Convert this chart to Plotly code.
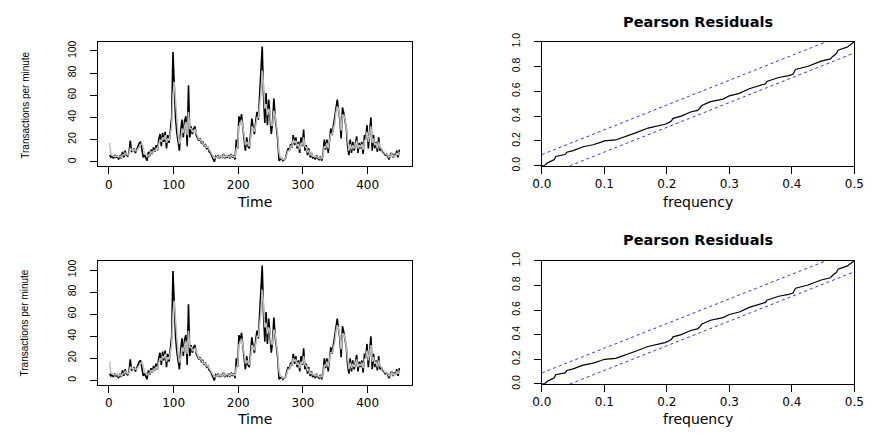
import plotly.graph_objects as go

# ---------------- data ----------------
time_idx = list(range(1, 451, 2))

observed = [
    6, 4, 5, 3, 6, 4, 5, 2, 6, 3,
    9, 4, 10, 6, 5, 8, 19, 9, 10, 12,
    8, 11, 14, 17, 18, 9, 4, 6, 3, 1,
    9, 5, 11, 7, 13, 9, 15, 10, 20, 25,
    14, 26, 18, 27, 12, 24, 17, 28, 40, 99,
    62, 40, 26, 15, 10, 28, 38, 22, 37, 41,
    14, 69, 22, 32, 25, 30, 32, 24, 22, 19,
    21, 17, 18, 14, 16, 12, 13, 9, 8, 5,
    3, 0, 5, 4, 6, 3, 5, 4, 7, 3,
    5, 4, 6, 3, 7, 4, 6, 2, 20, 12,
    41, 36, 43, 28, 20, 10, 22, 14, 12, 25,
    39, 30, 25, 37, 45, 38, 60, 70, 104, 60,
    35, 62, 33, 56, 40, 25, 35, 57, 40, 30,
    20, 1, 2, 3, 1, 2, 3, 8, 12, 10,
    16, 13, 24, 15, 22, 12, 18, 8, 22, 14,
    29, 10, 15, 6, 12, 4, 8, 3, 5, 2,
    6, 3, 2, 5, 1, 6, 20, 11, 20, 8,
    22, 30, 24, 32, 38, 50, 56, 46, 38, 21,
    49, 44, 38, 30, 14, 6, 20, 8, 18, 10,
    16, 23, 8, 17, 12, 18, 7, 24, 20, 33,
    12, 28, 40, 10, 24, 12, 18, 9, 22, 10,
    12, 9, 8, 6, 7, 5, 2, 6, 8, 4,
    7, 5, 10, 4, 11,
]

fitted = [
    17, 7, 6, 5, 5, 5, 5, 4, 5, 4,
    6, 6, 8, 7, 6, 7, 12, 11, 10, 11,
    10, 10, 12, 14, 16, 17, 13, 8, 7, 5,
    6, 6, 9, 8, 10, 10, 12, 11, 16, 20,
    18, 22, 20, 24, 17, 21, 19, 24, 32, 60,
    72, 55, 38, 24, 16, 20, 30, 26, 32, 36,
    24, 45, 30, 30, 27, 28, 29, 26, 23, 20,
    20, 18, 17, 15, 15, 13, 13, 11, 9, 7,
    5, 3, 4, 4, 5, 4, 5, 4, 6, 4,
    5, 5, 5, 4, 6, 5, 5, 4, 12, 14,
    32, 34, 38, 32, 24, 15, 18, 16, 14, 20,
    32, 30, 27, 33, 40, 40, 52, 62, 82, 70,
    48, 52, 42, 48, 43, 33, 33, 46, 42, 33,
    24, 8, 4, 3, 2, 2, 3, 6, 10, 10,
    14, 14, 20, 17, 19, 14, 16, 11, 17, 15,
    22, 14, 13, 9, 10, 6, 7, 5, 5, 4,
    5, 4, 3, 4, 3, 5, 14, 13, 17, 12,
    18, 25, 25, 29, 34, 44, 50, 47, 40, 28,
    42, 42, 38, 31, 18, 10, 16, 11, 15, 12,
    15, 19, 12, 15, 13, 16, 11, 19, 20, 27,
    18, 24, 32, 17, 21, 15, 17, 12, 18, 13,
    12, 10, 9, 7, 7, 6, 4, 5, 7, 5,
    6, 5, 8, 6, 9,
]

cp_freq = [0.0, 0.004, 0.009, 0.017, 0.020, 0.022, 0.035, 0.037, 0.040, 0.050,
           0.066, 0.082, 0.095, 0.100, 0.118, 0.129, 0.150, 0.170, 0.197, 0.204,
           0.207, 0.210, 0.223, 0.238, 0.249, 0.252, 0.256, 0.270, 0.290, 0.300,
           0.316, 0.332, 0.350, 0.358, 0.360, 0.379, 0.395, 0.402, 0.404, 0.406,
           0.426, 0.447, 0.462, 0.465, 0.470, 0.472, 0.474, 0.489, 0.500]
cp_val = [0.0, 0.0, 0.023, 0.044, 0.050, 0.075, 0.083, 0.090, 0.109, 0.122,
          0.153, 0.169, 0.190, 0.200, 0.208, 0.226, 0.265, 0.304, 0.335, 0.350,
          0.360, 0.382, 0.400, 0.434, 0.447, 0.460, 0.486, 0.517, 0.538, 0.564,
          0.584, 0.621, 0.652, 0.662, 0.680, 0.712, 0.727, 0.738, 0.760, 0.777,
          0.803, 0.844, 0.862, 0.880, 0.900, 0.910, 0.932, 0.958, 1.0]

ks_bound = 0.09
freq_ends = [0.0, 0.5]

time_ticks = [0, 100, 200, 300, 400]
count_ticks = [0, 20, 40, 60, 80, 100]
freq_ticks = [0.0, 0.1, 0.2, 0.3, 0.4, 0.5]
cum_ticks = [0.0, 0.2, 0.4, 0.6, 0.8, 1.0]

# ---------------- page geometry ----------------
W, H = 877, 436


def px_x(X):
    return X / W


def px_y(Y):
    return 1 - Y / H


# ---------------- figure ----------------
fig = go.Figure()

panels = [
    # (xaxis name, yaxis name, x pixel span, y pixel span (top, bottom))
    ("x", "y", (90, 411), (34, 163)),
    ("x2", "y2", (544.3, 864), (34, 162.3)),
    ("x3", "y3", (90, 411), (261, 389.3)),
    ("x4", "y4", (544.3, 864), (260.7, 388.3)),
]

for i, (xa, ya, _, _) in enumerate(panels):
    if i in (0, 2):
        fig.add_trace(go.Scatter(x=time_idx, y=observed, mode="lines",
                                 line=dict(color="#000000", width=1.6),
                                 xaxis=xa, yaxis=ya, showlegend=False))
        fig.add_trace(go.Scatter(x=time_idx, y=fitted, mode="lines",
                                 line=dict(color="#bdbdbd", width=1.5),
                                 xaxis=xa, yaxis=ya, showlegend=False))
    else:
        upper = [2 * f + ks_bound for f in freq_ends]
        lower = [2 * f - ks_bound for f in freq_ends]
        for b in (upper, lower):
            fig.add_trace(go.Scatter(x=freq_ends, y=b, mode="lines",
                                     line=dict(color="rgb(50,50,255)", width=1,
                                               dash="3px,3px"),
                                     xaxis=xa, yaxis=ya, showlegend=False))
        fig.add_trace(go.Scatter(x=cp_freq, y=cp_val, mode="lines",
                                 line=dict(color="#000000", width=1.2),
                                 xaxis=xa, yaxis=ya, showlegend=False))

tick_font = dict(family="DejaVu Sans", size=12, color="#000000")
ytick_font = dict(family="Liberation Sans", size=10.5, color="#000000")

common = dict(showline=True, mirror=True, linecolor="#000000", linewidth=1,
              ticks="outside", ticklen=7, tickcolor="#000000", tickwidth=1,
              showgrid=False, zeroline=False)

layout_axes = {}
for i, (xa, ya, xs, ys) in enumerate(panels):
    xkey = "xaxis" + xa[1:]
    ykey = "yaxis" + ya[1:]
    xd = [px_x(xs[0]), px_x(xs[1])]
    yd = [px_y(ys[1]), px_y(ys[0])]
    if i in (0, 2):
        layout_axes[xkey] = dict(common, domain=xd, range=[-16.96, 467.96],
                                 tickvals=time_ticks, tickfont=tick_font,
                                 anchor=ya)
        layout_axes[ykey] = dict(common, domain=yd, range=[-4.16, 108.16],
                                 tickvals=count_ticks, tickfont=ytick_font,
                                 tickangle=-90, anchor=xa,
                                 ticklabelstandoff=10)
    else:
        layout_axes[xkey] = dict(common, domain=xd, range=[0, 0.5],
                                 tickvals=freq_ticks, tickformat=".1f",
                                 tickfont=tick_font, anchor=ya)
        layout_axes[ykey] = dict(common, domain=yd, range=[0, 1],
                                 tickvals=cum_ticks, tickformat=".1f",
                                 tickfont=ytick_font, tickangle=-90, anchor=xa,
                                 ticklabelstandoff=10)

ann_font = dict(family="DejaVu Sans", size=14, color="#000000")
ylab_font = dict(family="Liberation Sans", size=10, color="#000000")
title_font = dict(family="DejaVu Sans", size=14.5, color="#000000", weight="bold")

annotations = []
for ylab_y, time_y in ((99.5, 200), (325, 425)):
    annotations.append(dict(text="Transactions per minute", x=px_x(15), y=px_y(ylab_y),
                            xref="paper", yref="paper", showarrow=False,
                            textangle=-90, font=ylab_font,
                            xanchor="center", yanchor="middle"))
    annotations.append(dict(text="Time", x=px_x(250.5), y=px_y(time_y), xref="paper",
                            yref="paper", showarrow=False, font=ann_font,
                            xanchor="center", yanchor="middle"))
    annotations.append(dict(text="frequency", x=px_x(704), y=px_y(time_y),
                            xref="paper", yref="paper", showarrow=False,
                            font=ann_font, xanchor="center", yanchor="middle"))
for title_y in (13, 239):
    annotations.append(dict(text="<b>Pearson Residuals</b>", x=px_x(704),
                            y=px_y(title_y), xref="paper", yref="paper",
                            showarrow=False, font=title_font,
                            xanchor="center", yanchor="middle"))

fig.update_layout(width=W, height=H, margin=dict(l=0, r=0, t=0, b=0),
                  paper_bgcolor="white", plot_bgcolor="white",
                  annotations=annotations, **layout_axes)

fig.write_html("out.html")
